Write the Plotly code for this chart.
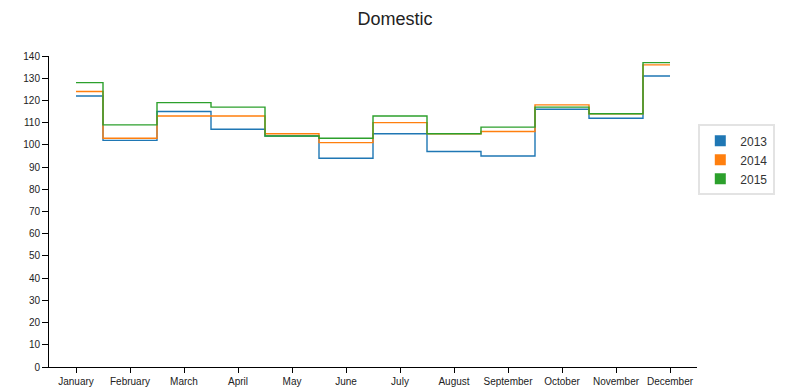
import plotly.graph_objects as go

months = ["January", "February", "March", "April", "May", "June", "July",
          "August", "September", "October", "November", "December"]
series_names = ["2013", "2014", "2015"]
values_2013 = [122, 102, 115, 107, 104, 94, 105, 97, 95, 116, 112, 131]
values_2014 = [124, 103, 113, 113, 105, 101, 110, 105, 106, 118, 114, 136]
values_2015 = [128, 109, 119, 117, 104, 103, 113, 105, 108, 117, 114, 137]
colors = ["#1f77b4", "#ff7f0e", "#2ca02c"]
y_ticks = list(range(0, 141, 10))

x_idx = list(range(len(months)))
fig = go.Figure()
for name, vals, col in zip(series_names, [values_2013, values_2014, values_2015], colors):
    fig.add_trace(go.Scatter(x=x_idx, y=vals, mode="lines", line=dict(shape="hvh", color=col, width=1.4),
                             showlegend=False, hoverinfo="skip"))
for name, col in zip(series_names, colors):
    fig.add_trace(go.Scatter(x=[None], y=[None], mode="markers", name=name,
                             marker=dict(symbol="square", size=11, color=col)))

fig.update_layout(
    width=790, height=391,
    margin=dict(l=49, r=93, t=56, b=24, autoexpand=False),
    paper_bgcolor="white", plot_bgcolor="white",
    title=dict(text="Domestic", x=0.5, xanchor="center", y=1 - 19 / 391, yanchor="middle",
               font=dict(family="Liberation Sans, Arial", size=18, color="#222")),
    font=dict(family="Liberation Sans, Arial", size=10, color="#222"),
    xaxis=dict(range=[-0.5, 11.5], tickvals=x_idx, ticktext=months, showgrid=False, zeroline=False,
               showline=True, linecolor="black", linewidth=1, ticks="outside", ticklen=5, tickcolor="black",
               tickfont=dict(size=10), fixedrange=True, automargin=False),
    yaxis=dict(range=[0, 140], tickvals=y_ticks, showgrid=False, zeroline=False,
               showline=True, linecolor="black", linewidth=1, ticks="outside", ticklen=6, tickcolor="black",
               tickfont=dict(size=10), fixedrange=True, automargin=False),
    legend=dict(x=1.002, xanchor="left", y=0.666, yanchor="middle", bordercolor="#e3e3e3", borderwidth=2,
                bgcolor="white", font=dict(size=12, color="#333"), tracegroupgap=2, itemwidth=30),
)
fig.write_html("out.html", post_script="document.body.style.margin='0';",
               config={"displayModeBar": False})
